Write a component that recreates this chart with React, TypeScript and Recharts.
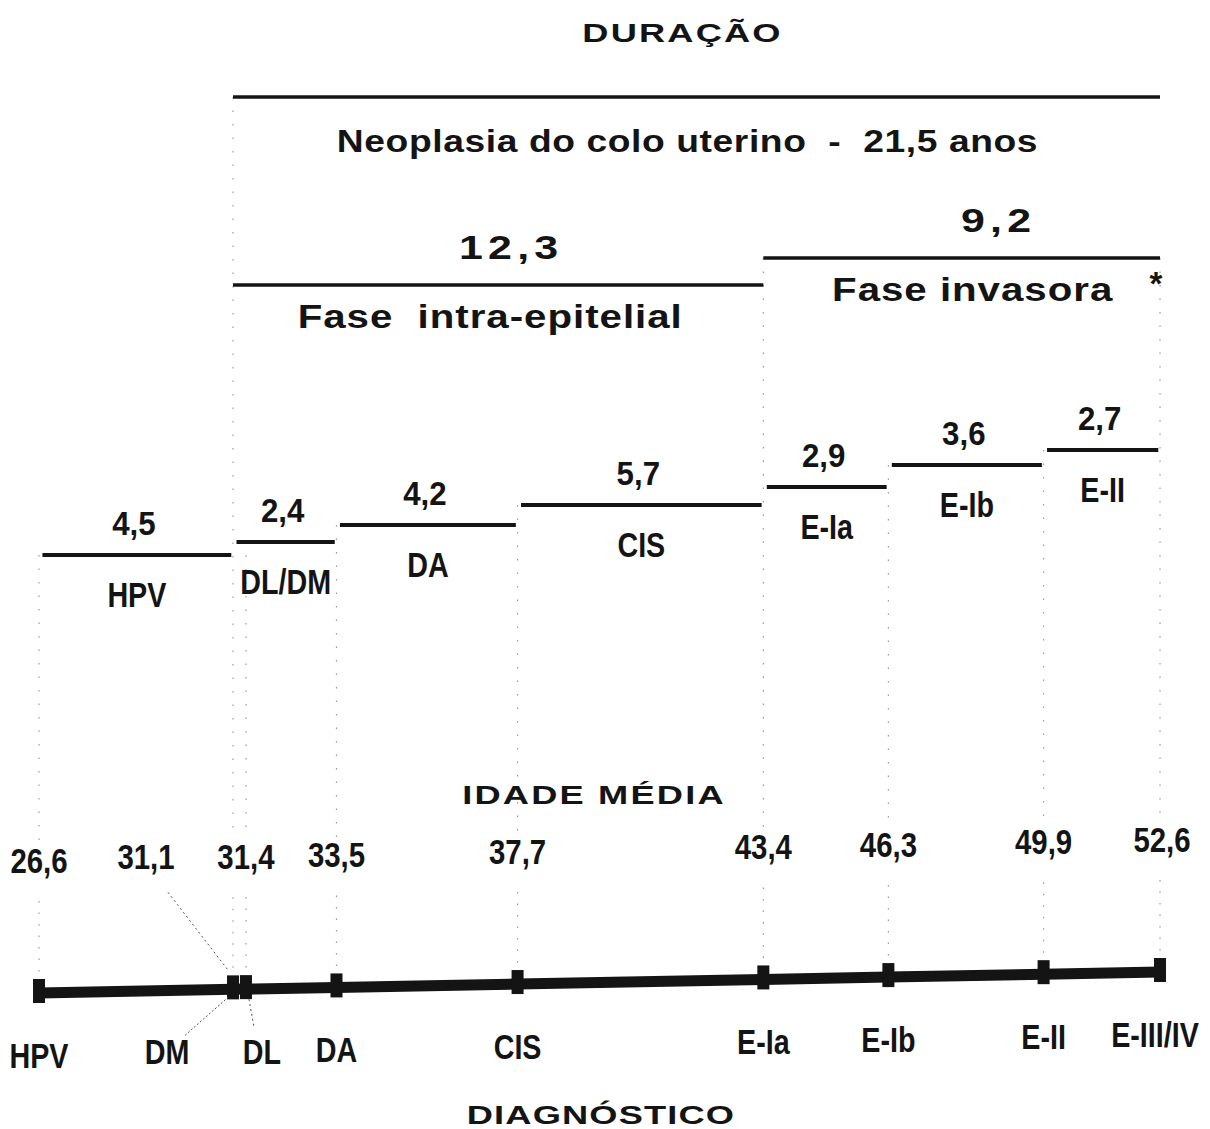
import { ComposedChart, XAxis, YAxis, Line, Scatter, ReferenceLine } from 'recharts';

// duração (anos) de cada etapa; início = idade média ao diagnóstico
const STAGES = ['HPV', 'DL/DM', 'DA', 'CIS', 'E-Ia', 'E-Ib', 'E-II'];
const STAGE_START = [26.6, 31.1, 33.5, 37.7, 43.4, 46.3, 49.9];
const STAGE_YEARS = [4.5, 2.4, 4.2, 5.7, 2.9, 3.6, 2.7];

const PHASES = ['Fase  intra-epitelial', 'Fase invasora'];
const PHASE_START = [31.1, 43.4];
const PHASE_YEARS = [12.3, 9.2];
const PHASE_NOTE = ['', '*'];

const TOTAL_TITLE = 'Neoplasia do colo uterino';
const TOTAL_START = 31.1;
const TOTAL_YEARS = 21.5;

const DIAGNOSES = ['HPV', 'DM', 'DL', 'DA', 'CIS', 'E-Ia', 'E-Ib', 'E-II', 'E-III/IV'];
const MEAN_AGES = [26.6, 31.1, 31.4, 33.5, 37.7, 43.4, 46.3, 49.9, 52.6];

// layout
const W = 1194;
const H = 1121;
const SANS = "'Liberation Sans', Arial, Helvetica, sans-serif";
const INK = '#141414';
const NARROW = 0.82; // horizontal squeeze for the condensed labels
const WIDE = 1.22; // horizontal stretch for the extended titles
const Y_TOTAL = 89;
const Y_PHASE = [277, 250];
const PHASE_VALUE_DX = [13, 37];
const PHASE_NAME_DX = [-8, 11];
const Y_STAGE = [547, 534, 517, 497, 479, 457, 442];
const VLINE_TOP = [547, 89, 534, 517, 497, 250, 457, 442, 250];
const TL_LEFT = 985;
const TL_RIGHT = 964;
const AGE_DX: Record<string, number> = { DM: -87, 'E-III/IV': 2 };
const DIAG_DX: Record<string, number> = { DM: -66, DL: 16, 'E-III/IV': -5 };

const fmt = (v: number) => v.toFixed(1).replace('.', ',');
const first = MEAN_AGES[0];
const last = MEAN_AGES[MEAN_AGES.length - 1];
const tlY = (age: number) => TL_LEFT + ((TL_RIGHT - TL_LEFT) * (age - first)) / (last - first);

const timeline = MEAN_AGES.map((age, i) => ({ x: age, y: tlY(age), name: DIAGNOSES[i] }));

function T({ x, y, size, sx = 1, spacing = 0, anchor = 'middle', children }: any) {
  return (
    <text
      transform={`translate(${x},${y}) scale(${sx},1)`}
      fontFamily={SANS}
      fontWeight="bold"
      fontSize={size}
      letterSpacing={spacing}
      textAnchor={anchor}
      fill={INK}
      style={{ whiteSpace: 'pre' }}
    >
      {children}
    </text>
  );
}

function stageLabel(value: string, name: string) {
  return (props: any) => {
    const vb = props.viewBox;
    const cx = vb.x + vb.width / 2;
    return (
      <g>
        <T x={cx - 3} y={vb.y - 20} size={34} sx={0.92}>{value}</T>
        <T x={cx} y={vb.y + 52} size={35} sx={NARROW}>{name}</T>
      </g>
    );
  };
}

function phaseLabel(i: number) {
  return (props: any) => {
    const vb = props.viewBox;
    const cx = vb.x + vb.width / 2;
    return (
      <g>
        <T x={cx + PHASE_VALUE_DX[i]} y={vb.y - 26} size={33} sx={1.3} spacing={4}>{fmt(PHASE_YEARS[i])}</T>
        <T x={cx + PHASE_NAME_DX[i]} y={vb.y + 43} size={33} sx={WIDE} spacing={0.8}>{PHASES[i]}</T>
        {PHASE_NOTE[i] && <T x={vb.x + vb.width - 4} y={vb.y + 37} size={33}>{PHASE_NOTE[i]}</T>}
      </g>
    );
  };
}

function totalLabel(props: any) {
  const vb = props.viewBox;
  const cx = vb.x + vb.width / 2;
  return (
    <g>
      <T x={cx - 14} y={vb.y - 55} size={25} sx={1.45} spacing={1.5}>DURAÇÃO</T>
      <T x={cx - 9} y={vb.y + 55} size={31} sx={1.2} spacing={0.5}>
        {`${TOTAL_TITLE}  -  ${fmt(TOTAL_YEARS)} anos`}
      </T>
    </g>
  );
}

function Marker(props: any) {
  const { cx, cy, payload } = props;
  const name = payload.name as string;
  const ax = cx + (AGE_DX[name] || 0);
  const dx = cx + (DIAG_DX[name] || 0);
  return (
    <g>
      <rect x={cx - 6} y={cy - 14} width={12} height={24} fill={INK} />
      <T x={ax} y={cy - 120} size={35} sx={0.84}>{fmt(payload.x)}</T>
      <T x={dx} y={cy + 75} size={35} sx={NARROW}>{name}</T>
      {name === 'DM' && (
        <g stroke="#555" strokeWidth={1}>
          <line x1={ax + 22} y1={cy - 97} x2={cx - 4} y2={cy - 18} strokeDasharray="2 3" />
          <line x1={dx + 18} y1={cy + 46} x2={cx - 5} y2={cy + 8} strokeDasharray="2 2" />
        </g>
      )}
      {name === 'DL' && <line x1={cx + 3} y1={cy + 10} x2={cx + 8} y2={cy + 38} stroke="#555" strokeDasharray="2 3" />}
    </g>
  );
}

export default function App() {
  return (
    <div style={{ position: 'relative', width: W, height: H, background: '#fff' }}>
      <ComposedChart width={W} height={H} margin={{ top: 0, right: 0, bottom: 0, left: 0 }}>
        <XAxis type="number" dataKey="x" domain={[25.881, 53.574]} allowDataOverflow hide />
        <YAxis type="number" dataKey="y" domain={[0, H]} reversed allowDataOverflow hide />

        {MEAN_AGES.map((age, i) => (
          <ReferenceLine
            key={`v-${i}`}
            segment={[{ x: age, y: VLINE_TOP[i] }, { x: age, y: tlY(age) - 150 }]}
            stroke="#9a9a9a"
            strokeWidth={1.2}
            strokeDasharray="1.5 12"
          />
        ))}
        {MEAN_AGES.map((age, i) => (
          <ReferenceLine
            key={`vb-${i}`}
            segment={[{ x: age, y: tlY(age) - 92 }, { x: age, y: tlY(age) - 14 }]}
            stroke="#9a9a9a"
            strokeWidth={1.2}
            strokeDasharray="1.5 10"
          />
        ))}

        <ReferenceLine
          segment={[{ x: TOTAL_START, y: Y_TOTAL }, { x: TOTAL_START + TOTAL_YEARS, y: Y_TOTAL }]}
          stroke={INK}
          strokeWidth={3.5}
          label={totalLabel}
        />

        {PHASES.map((p, i) => (
          <ReferenceLine
            key={p}
            segment={[{ x: PHASE_START[i], y: Y_PHASE[i] }, { x: PHASE_START[i] + PHASE_YEARS[i], y: Y_PHASE[i] }]}
            stroke={INK}
            strokeWidth={3.5}
            label={phaseLabel(i)}
          />
        ))}

        {STAGES.map((s, i) => (
          <ReferenceLine
            key={s}
            segment={[
              { x: STAGE_START[i] + 0.08, y: Y_STAGE[i] },
              { x: STAGE_START[i] + STAGE_YEARS[i] - 0.04, y: Y_STAGE[i] },
            ]}
            stroke={INK}
            strokeWidth={4}
            label={stageLabel(fmt(STAGE_YEARS[i]), s)}
          />
        ))}

        <Line data={timeline} dataKey="y" stroke={INK} strokeWidth={11} dot={false} isAnimationActive={false} />
        <Scatter data={timeline} shape={Marker} isAnimationActive={false} />
      </ComposedChart>

      <svg width={W} height={H} style={{ position: 'absolute', left: 0, top: 0, pointerEvents: 'none' }}>
        <T x={586} y={796} size={25} sx={1.45} spacing={1.5}>IDADE MÉDIA</T>
        <T x={593} y={1116} size={25} sx={1.45} spacing={0.8}>DIAGNÓSTICO</T>
      </svg>
    </div>
  );
}
